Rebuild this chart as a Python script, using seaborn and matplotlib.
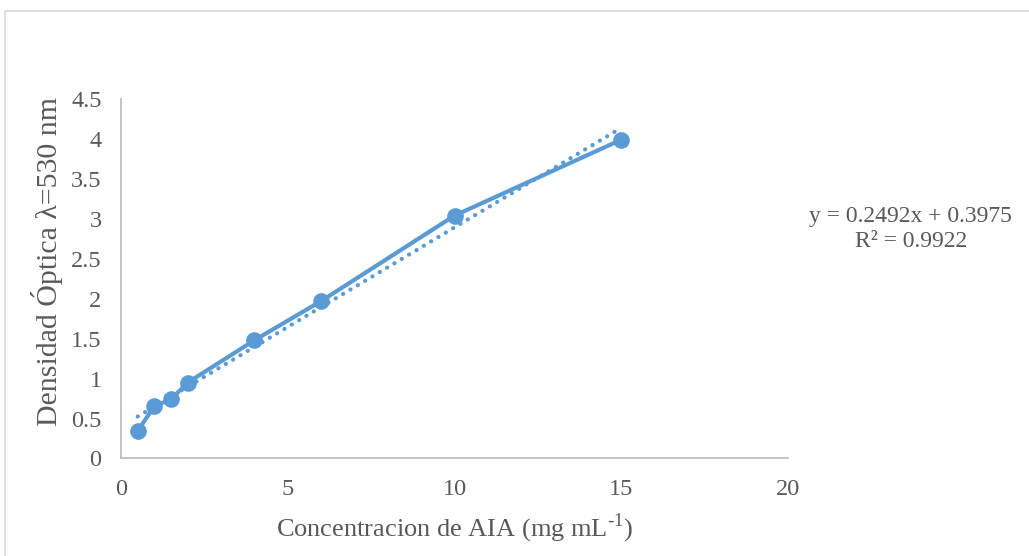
import numpy as np
import pandas as pd
import matplotlib
matplotlib.use("Agg")
import matplotlib.pyplot as plt
import seaborn as sns
from matplotlib.patches import Rectangle

conc = [0.5, 1, 1.5, 2, 4, 6, 10, 15]
absorb = [0.344, 0.656, 0.74, 0.95, 1.48, 1.97, 3.04, 3.99]
x_ticks = [0, 5, 10, 15, 20]
y_ticks = [0, 0.5, 1, 1.5, 2, 2.5, 3, 3.5, 4, 4.5]
y_tick_labels = ["0", "0.5", "1", "1.5", "2", "2.5", "3", "3.5", "4", "4.5"]
eq_text = "y = 0.2492x + 0.3975\nR² = 0.9922"

sns.set_style("white")
plt.rcParams['font.family'] = ['Liberation Serif', 'DejaVu Serif']

color = "#5B9BD5"
fig = plt.figure(figsize=(10.29, 5.56), dpi=100)
ax = fig.add_axes([0.1176, 0.1754, 0.6482, 0.6466])

df = pd.DataFrame({"x": conc, "y": absorb})
slope, intercept = np.polyfit(conc, absorb, 1)
trend = pd.DataFrame({"x": [min(conc), max(conc)]})
trend["y"] = slope * trend["x"] + intercept

sns.lineplot(data=trend, x="x", y="y", ax=ax, color=color, linestyle=(0, (0.05, 2.0)),
             linewidth=3.0, dash_capstyle="round", solid_capstyle="round", zorder=2)
sns.lineplot(data=df, x="x", y="y", ax=ax, color=color, linewidth=3,
             marker="o", markersize=12, markeredgewidth=0, zorder=3)

ax.set_xlim(0, 20)
ax.set_ylim(0, 4.5)
ax.set_xticks(x_ticks)
ax.set_xticklabels([str(t) for t in x_ticks])
ax.set_yticks(y_ticks)
ax.set_yticklabels(y_tick_labels)
ax.tick_params(axis="both", length=0, labelsize=17.5, labelcolor="#595959")
ax.tick_params(axis="y", pad=14)
ax.tick_params(axis="x", pad=15)
for s in ["top", "right"]:
    ax.spines[s].set_visible(False)
for s in ["left", "bottom"]:
    ax.spines[s].set_color("#BFBFBF")
    ax.spines[s].set_linewidth(1.3)

ax.set_xlabel("Concentracion de AIA (mg mL$^{\\mathregular{\\text{-}1}}$)", fontsize=19, color="#595959", labelpad=8)
ax.set_ylabel("Densidad Óptica λ=530 nm", fontsize=21.5, color="#595959", va="center")
ax.yaxis.set_label_coords(-0.111, 0.549)

fig.text(0.885, 0.588, eq_text, ha="center", va="center", fontsize=17,
         color="#595959", linespacing=1.3)

fig.patches.append(Rectangle((5/1029, -0.1), 1.2, (556-11)/556 + 0.1, transform=fig.transFigure,
                             fill=False, edgecolor="#D9D9D9", linewidth=1.2))

fig.savefig("out.png", dpi=100)
